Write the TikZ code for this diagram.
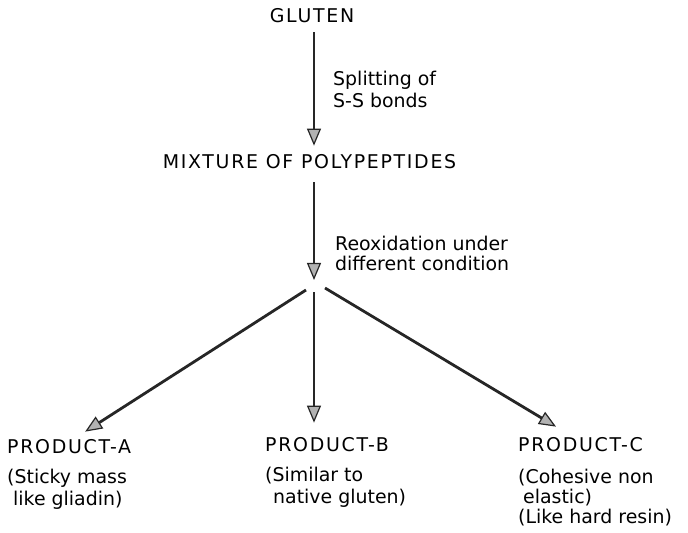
\documentclass[tikz,border=0pt]{standalone}
\usepackage{fontspec}
\setmainfont{DejaVu Sans}
\newfontfamily\capsfont{DejaVu Sans}[LetterSpace=9]
\usetikzlibrary{arrows.meta,positioning}

\begin{document}
\begin{tikzpicture}[x=1bp,y=-1bp,
  flow/.style={line width=2.8bp, draw=black!85,
    -{Triangle[length=17bp,width=14bp,fill=gray!60,line width=1.2bp]}},
  caps/.style={inner sep=0pt, font=\capsfont\fontsize{19}{22}\selectfont},
  note/.style={inner sep=0pt, align=left, font=\fontsize{19}{22}\selectfont}]
  \useasboundingbox (0,0) rectangle (688,533);
  %%%%%%%%%%%%%Gluten and the splitting%%%%%%%%%%%%%%%%%%%%%%
  \node[caps] (gluten) at (312,16) {GLUTEN};
  \node[caps] (mixture) at (309.5,162) {MIXTURE OF POLYPEPTIDES};
  \coordinate (fork) at (314,290);
  \node[note, anchor=west] (split) at (333,89) {Splitting of\\S-S bonds};
  \node[note, anchor=west, font=\fontsize{19}{20}\selectfont] (reox) at (335,253)
    {Reoxidation under\\different condition};
  \draw[flow, shorten <=9bp, shorten >=9bp] (gluten.south -| fork) -- (mixture.north -| fork);
  \draw[flow, shorten <=13bp, shorten >=10bp] (mixture.south -| fork) -- (fork);

  %%%%%%%%%%%%%The three products%%%%%%%%%%%%%%%%%%%%%%
  \node[caps, anchor=west] (prodA) at (7,447) {PRODUCT-A};
  \node[caps, anchor=west] (prodB) at (265,445) {PRODUCT-B};
  \node[caps, anchor=west] (prodC) at (518,445) {PRODUCT-C};
  \node[note, below right=15bp and 0bp of prodA.south west] (descA)
    {(Sticky mass\\\hspace*{6bp}like gliadin)};
  \node[note, below right=15bp and 0bp of prodB.south west] (descB)
    {(Similar to\\\hspace*{8bp}native gluten)};
  \node[note, below right=17bp and 0bp of prodC.south west,
    font=\fontsize{19}{20}\selectfont] (descC)
    {(Cohesive non\\\hspace*{5bp}elastic)\\(Like hard resin)};
  \draw[flow] ([xshift=-8bp]fork) -- ([xshift=16bp,yshift=8bp]prodA.north);
  \draw[flow, shorten <=2bp, shorten >=15bp] (fork) -- (fork |- prodB.north);
  \draw[flow] ([xshift=11bp,yshift=2bp]fork) -- ([xshift=-24.5bp,yshift=11bp]prodC.north);
\end{tikzpicture}
\end{document}
